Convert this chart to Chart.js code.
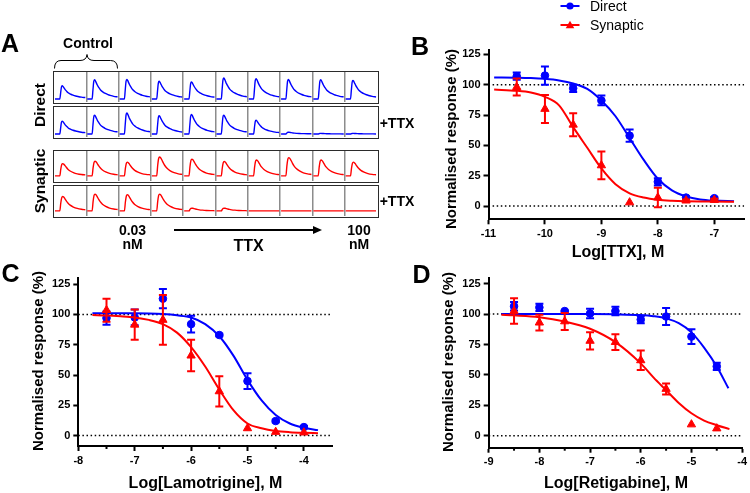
<!DOCTYPE html>
<html lang="en">
<head>
<meta charset="UTF-8">
<title>TTX, lamotrigine and retigabine dose-response</title>
<script src="https://cdn.jsdelivr.net/npm/chart.js@4"></script>
<style>
  body { margin: 0; background: #fff; font-family: "Liberation Sans", Arial, sans-serif; }
  #fig { position: relative; width: 750px; height: 493px; overflow: hidden; background: #fff; }
  .lbl { position: absolute; transform: translate(-50%, -50%); line-height: 1; white-space: nowrap; font-weight: bold; color: #000; }
  .rot { transform: translate(-50%, -50%) rotate(-90deg); }
  .leg { position: absolute; transform: translateY(-50%); line-height: 1; font-size: 14px; color: #000; white-space: nowrap; }
  .row { position: absolute; left: 53px; width: 326px; height: 33px; border: 1.5px solid #2b2b2b; box-sizing: border-box; }
  .row canvas { display: block; }
  canvas.plot { position: absolute; }
</style>
</head>
<body>
<div id="fig">
  <!-- panel A trace rows -->
  <div class="row" style="top:70.5px"><canvas id="rowDirectCtl" width="323" height="30"></canvas></div>
  <div class="row" style="top:106px"><canvas id="rowDirectTtx" width="323" height="30"></canvas></div>
  <div class="row" style="top:149.5px"><canvas id="rowSynCtl" width="323" height="30"></canvas></div>
  <div class="row" style="top:184.5px"><canvas id="rowSynTtx" width="323" height="30"></canvas></div>

  <!-- dose-response panels -->
  <canvas id="chartB" class="plot" width="310" height="225" style="left:440px;top:40px"></canvas>
  <canvas id="chartC" class="plot" width="310" height="225" style="left:28px;top:268px"></canvas>
  <canvas id="chartD" class="plot" width="310" height="225" style="left:440px;top:268px"></canvas>

  <svg width="750" height="493" style="position:absolute;left:0;top:0;pointer-events:none">
    <path d="M54.5,68.5 Q54.5,60.5 61,60.5 L80,60.5 Q86.5,60.5 87,54.5 Q87.5,60.5 94,60.5 L110.5,60.5 Q117.5,60.5 117.5,68.5" fill="none" stroke="#000" stroke-width="1"/>
    <line x1="174" y1="230" x2="315" y2="230" stroke="#000" stroke-width="2"/>
    <polygon points="313,226 322,230 313,234" fill="#000"/>
    <line x1="560.5" y1="6" x2="579.5" y2="6" stroke="#0000ff" stroke-width="2"/>
    <circle cx="570" cy="6" r="3.6" fill="#0000ff"/>
    <line x1="560.5" y1="25" x2="579.5" y2="25" stroke="#ff0000" stroke-width="2"/>
    <polygon points="570,20.8 574.3,28.3 565.7,28.3" fill="#ff0000"/>
  </svg>

  <div class="lbl" style="left:10px;top:42.5px;font-size:25px">A</div>
  <div class="lbl" style="left:420px;top:45.5px;font-size:25px">B</div>
  <div class="lbl" style="left:10.5px;top:272.5px;font-size:25px">C</div>
  <div class="lbl" style="left:421.5px;top:274px;font-size:25px">D</div>

  <div class="lbl" style="left:88px;top:43px;font-size:14px">Control</div>
  <div class="lbl rot" style="left:40px;top:105px;font-size:15.5px">Direct</div>
  <div class="lbl rot" style="left:40px;top:181px;font-size:15.5px">Synaptic</div>
  <div class="lbl" style="left:397px;top:123px;font-size:14px">+TTX</div>
  <div class="lbl" style="left:397px;top:200.5px;font-size:14px">+TTX</div>
  <div class="lbl" style="left:132.5px;top:230px;font-size:14px">0.03</div>
  <div class="lbl" style="left:132.5px;top:243.5px;font-size:14px">nM</div>
  <div class="lbl" style="left:359px;top:230px;font-size:14px">100</div>
  <div class="lbl" style="left:359px;top:243.5px;font-size:14px">nM</div>
  <div class="lbl" style="left:248.5px;top:246px;font-size:16px">TTX</div>

  <div class="leg" style="left:590px;top:6px">Direct</div>
  <div class="leg" style="left:590px;top:24.7px">Synaptic</div>

  <div class="lbl rot" style="left:450px;top:139px;font-size:15px">Normalised response (%)</div>
  <div class="lbl rot" style="left:36.5px;top:361px;font-size:15px">Normalised response (%)</div>
  <div class="lbl rot" style="left:446.5px;top:362px;font-size:15px">Normalised response (%)</div>
  <div class="lbl" style="left:618px;top:251.5px;font-size:16px">Log[TTX], M</div>
  <div class="lbl" style="left:205.5px;top:483px;font-size:16px">Log[Lamotrigine], M</div>
  <div class="lbl" style="left:616px;top:483px;font-size:16px">Log[Retigabine], M</div>
</div>

<script>
// ---- panel A: example traces (10 sweeps per row) ----
const columns = ['Control', 'Control', '0.03', '0.1', '0.3', '1', '3', '10', '30', '100']; // nM TTX
const directShapeX = [0.03, 0.18, 0.205, 0.23, 0.255, 0.28, 0.31, 0.34, 0.39, 0.44, 0.52, 0.59, 0.67, 0.74, 0.85, 0.97];
const directShapeY = [0, 0, 0.45, 0.9, 1, 0.95, 0.84, 0.73, 0.59, 0.47, 0.36, 0.29, 0.23, 0.19, 0.14, 0.11];
const synShapeX = [0.03, 0.18, 0.21, 0.24, 0.27, 0.30, 0.34, 0.38, 0.43, 0.50, 0.60, 0.72, 0.85, 0.97];
const synShapeY = [0, 0, 0.55, 0.92, 1, 0.96, 0.84, 0.70, 0.55, 0.40, 0.27, 0.17, 0.11, 0.08];
const directCtlAmp = [0.44, 0.64, 0.65, 0.59, 0.57, 0.70, 0.68, 0.65, 0.64, 0.62];
const directTtxAmp = [0.43, 0.63, 0.70, 0.61, 0.65, 0.63, 0.46, 0.06, 0.02, 0.02];
const synCtlAmp = [0.41, 0.49, 0.46, 0.63, 0.56, 0.48, 0.53, 0.61, 0.53, 0.46];
const synTtxAmp = [0.48, 0.56, 0.54, 0.56, 0.09, 0.09, 0, 0, 0, 0];

// ---- panel B: TTX ----
const bDose = [-10.5, -10, -9.5, -9, -8.5, -8, -7.5, -7];
const bDirect = [107, 107.5, 97, 87, 58, 20, 7, 6.5];
const bDirectErr = [3, 7.5, 3, 4, 5, 3, 1, 1];
const bSyn = [98, 80, 67, 33.5, 3, 7, 4.5, 5];
const bSynErr = [7, 11.5, 9.5, 11.5, 0, 8, 1, 1];
const bFitX = [-10.9, -10.5, -10.25, -10, -9.75, -9.5, -9.25, -9, -8.75, -8.5, -8.25, -8, -7.75, -7.5, -7.25, -7, -6.65];
const bFitDirect = [106, 105.8, 105.5, 104.8, 103.5, 101, 96.5, 87, 74, 56, 38, 22.5, 13, 8, 5.5, 4.5, 4];
const bFitSyn = [96, 95, 93.5, 90, 83, 65, 48, 31, 18, 10.5, 7, 5.2, 4.4, 4, 3.8, 3.7, 3.6];
const bTicks = [-11, -10, -9, -8, -7];

// ---- panel C: lamotrigine ----
const cDose = [-7.5, -7, -6.5, -6, -5.5, -5, -4.5, -4];
const cDirect = [97, 97.5, 113, 92, 83, 45, 12, 7];
const cDirectErr = [5.5, 6.5, 8, 7, 1, 6.5, 1, 1];
const cSyn = [103.5, 91.5, 95.5, 66, 36.5, 6, 3, 2.5];
const cSynErr = [9.5, 12.5, 20.5, 13, 12.5, 0, 0, 0];
const cFitX = [-7.75, -7.5, -7.25, -7, -6.75, -6.5, -6.25, -6, -5.75, -5.5, -5.25, -5, -4.75, -4.5, -4.25, -4, -3.75];
const cFitDirect = [101, 101, 101, 101, 100.8, 100.3, 99.3, 97.5, 92, 82, 66, 46, 29, 17, 10, 6.5, 4.5];
const cFitSyn = [99.5, 99.2, 98.5, 97.5, 95.5, 92, 85, 73, 57, 38, 21, 10, 6, 3.8, 2.8, 2.3, 2];
const cTicks = [-8, -7, -6, -5, -4];
const cMinor = [-7.5, -6.5, -5.5, -4.5];

// ---- panel D: retigabine ----
const dDose = [-8.5, -8, -7.5, -7, -6.5, -6, -5.5, -5, -4.5];
const dDirect = [106.5, 105.5, 102.5, 100.5, 102.5, 95.5, 98, 81.5, 57];
const dDirectErr = [3.5, 3, 0.5, 4, 3.5, 3, 7, 6, 3];
const dSyn = [102.5, 93, 94, 78, 77, 62, 38.5, 9.3, 6];
const dSynErr = [10.5, 6.5, 7, 7, 6.5, 8, 4.5, 0, 0];
const dFitXDirect = [-8.75, -8.5, -8, -7.5, -7, -6.5, -6, -5.75, -5.5, -5.25, -5, -4.75, -4.5, -4.27];
const dFitDirect = [100, 100, 100, 100, 100, 99.8, 99.2, 98.3, 96.5, 92.5, 85, 72.5, 57, 39];
const dFitXSyn = [-8.75, -8.5, -8, -7.5, -7, -6.5, -6, -5.75, -5.5, -5.25, -5, -4.75, -4.5, -4.25];
const dFitSyn = [99.5, 99, 97.5, 94, 88, 77, 59.5, 48, 37.5, 27, 18.5, 12.5, 8.7, 5.5];
const dTicks = [-9, -8, -7, -6, -5, -4];
const dMinor = [-8.5, -7.5, -6.5, -5.5, -4.5];

const yTicks = [0, 25, 50, 75, 100, 125];
const refLevels = [0, 100];

const BLUE = '#0000ff';
const RED = '#ff0000';

Chart.defaults.font.family = '"Liberation Sans", Arial, sans-serif';
Chart.defaults.color = '#000';

function pts(xs, ys) {
  return xs.map((x, i) => ({ x: x, y: ys[i] }));
}

// draws SEM bars for a dataset just before its markers
const errorBars = {
  id: 'errorBars',
  beforeDatasetDraw(chart, args) {
    const ds = chart.data.datasets[args.index];
    if (!ds.errors) return;
    const xs = chart.scales.x, ys = chart.scales.y, ctx = chart.ctx;
    ctx.save();
    ctx.strokeStyle = ds.borderColor;
    ctx.lineWidth = 2;
    ds.data.forEach((p, i) => {
      const e = ds.errors[i];
      if (!e) return;
      const px = xs.getPixelForValue(p.x);
      const top = ys.getPixelForValue(p.y + e);
      const bot = ys.getPixelForValue(p.y - e);
      ctx.beginPath();
      ctx.moveTo(px, top); ctx.lineTo(px, bot);
      ctx.moveTo(px - 4, top); ctx.lineTo(px + 4, top);
      ctx.moveTo(px - 4, bot); ctx.lineTo(px + 4, bot);
      ctx.stroke();
    });
    ctx.restore();
  }
};

// short unlabeled ticks between the major ones
const minorTicks = {
  id: 'minorTicks',
  afterDraw(chart, args, opts) {
    if (!opts.values || !opts.values.length) return;
    const ctx = chart.ctx, xs = chart.scales.x, b = chart.chartArea.bottom;
    ctx.save();
    ctx.strokeStyle = '#000';
    ctx.lineWidth = 2;
    opts.values.forEach(v => {
      const px = xs.getPixelForValue(v);
      ctx.beginPath(); ctx.moveTo(px, b); ctx.lineTo(px, b + 3); ctx.stroke();
    });
    ctx.restore();
  }
};

function axis(min, max, ticks, fitFn) {
  return {
    type: 'linear', min: min, max: max,
    afterBuildTicks: s => { s.ticks = ticks.map(v => ({ value: v })); },
    afterFit: fitFn,
    grid: { drawOnChartArea: false, drawTicks: true, tickLength: 5, tickWidth: 2, tickColor: '#000' },
    border: { color: '#000', width: 2 },
    ticks: { font: { size: 11, weight: 'bold' }, padding: 3, maxRotation: 0, autoSkip: false, color: '#000' }
  };
}

function doseChart(id, g) {
  const refSets = refLevels.map(v => ({
    data: pts([g.xMin, g.xMax], [v, v]),
    borderColor: '#000', borderWidth: 1.5, borderDash: [1.5, 2.6],
    pointRadius: 0, order: 10
  }));
  return new Chart(document.getElementById(id), {
    type: 'line',
    data: {
      datasets: refSets.concat([
        { label: 'Direct fit', data: pts(g.fitXD, g.fitD), borderColor: BLUE, borderWidth: 2,
          pointRadius: 0, cubicInterpolationMode: 'monotone', order: 3 },
        { label: 'Direct', data: pts(g.dose, g.direct), errors: g.directErr, showLine: false,
          pointStyle: 'circle', pointRadius: 3.8, backgroundColor: BLUE, borderColor: BLUE, order: 2 },
        { label: 'Synaptic fit', data: pts(g.fitXS, g.fitS), borderColor: RED, borderWidth: 2,
          pointRadius: 0, cubicInterpolationMode: 'monotone', order: 1 },
        { label: 'Synaptic', data: pts(g.dose, g.syn), errors: g.synErr, showLine: false,
          pointStyle: 'triangle', pointRadius: 4.8, backgroundColor: RED, borderColor: RED, order: 0 }
      ])
    },
    options: {
      responsive: false,
      animation: false,
      events: [],
      layout: { padding: { top: g.padTop, right: g.padRight, left: 0, bottom: 0 } },
      plugins: {
        legend: { display: false },
        tooltip: { enabled: false },
        minorTicks: { values: g.minor || [] }
      },
      scales: {
        x: axis(g.xMin, g.xMax, g.xTicks, s => { s.height = g.xH; }),
        y: axis(g.yMin, g.yMax, yTicks, s => { s.width = g.yW; })
      }
    },
    plugins: [errorBars, minorTicks]
  });
}

function traceChart(id, amps, shapeX, shapeY, base, color) {
  const data = [];
  amps.forEach((a, i) => {
    shapeX.forEach((sx, k) => data.push({ x: i + sx, y: base + a * shapeY[k] }));
    data.push({ x: i + 0.995, y: null });
  });
  return new Chart(document.getElementById(id), {
    type: 'line',
    data: { datasets: [{ data: data, borderColor: color, borderWidth: 1.4, pointRadius: 0,
      cubicInterpolationMode: 'monotone', spanGaps: false }] },
    options: {
      responsive: false,
      animation: false,
      events: [],
      layout: { padding: 0 },
      plugins: { legend: { display: false }, tooltip: { enabled: false } },
      scales: {
        x: {
          type: 'linear', min: 0, max: columns.length,
          afterBuildTicks: s => { s.ticks = columns.slice(1).map((c, i) => ({ value: i + 1 })); },
          afterFit: s => { s.height = 0; },
          ticks: { display: false },
          grid: { color: '#8c8c8c', lineWidth: 1.5, drawTicks: false },
          border: { display: false }
        },
        y: { display: false, min: 0, max: 1 }
      }
    }
  });
}

traceChart('rowDirectCtl', directCtlAmp, directShapeX, directShapeY, 0.1, BLUE);
traceChart('rowDirectTtx', directTtxAmp, directShapeX, directShapeY, 0.1, BLUE);
traceChart('rowSynCtl', synCtlAmp, synShapeX, synShapeY, 0.17, RED);
traceChart('rowSynTtx', synTtxAmp, synShapeX, synShapeY, 0.17, RED);

doseChart('chartB', {
  xMin: -11, xMax: -6.47, yMin: -10.9, yMax: 128.9, xTicks: bTicks,
  padTop: 9.3, padRight: 4, yW: 48.5, xH: 45.7,
  dose: bDose, direct: bDirect, directErr: bDirectErr, syn: bSyn, synErr: bSynErr,
  fitXD: bFitX, fitD: bFitDirect, fitXS: bFitX, fitS: bFitSyn
});

doseChart('chartC', {
  xMin: -8, xMax: -3.5, yMin: -8.6, yMax: 130.4, xTicks: cTicks, minor: cMinor,
  padTop: 8.7, padRight: 5.9, yW: 50.3, xH: 47,
  dose: cDose, direct: cDirect, directErr: cDirectErr, syn: cSyn, synErr: cSynErr,
  fitXD: cFitX, fitD: cFitDirect, fitXS: cFitX, fitS: cFitSyn
});

doseChart('chartD', {
  xMin: -9, xMax: -4, yMin: -9.8, yMax: 130, xTicks: dTicks, minor: dMinor,
  padTop: 9.3, padRight: 6, yW: 48.7, xH: 45.3,
  dose: dDose, direct: dDirect, directErr: dDirectErr, syn: dSyn, synErr: dSynErr,
  fitXD: dFitXDirect, fitD: dFitDirect, fitXS: dFitXSyn, fitS: dFitSyn
});
</script>
</body>
</html>
